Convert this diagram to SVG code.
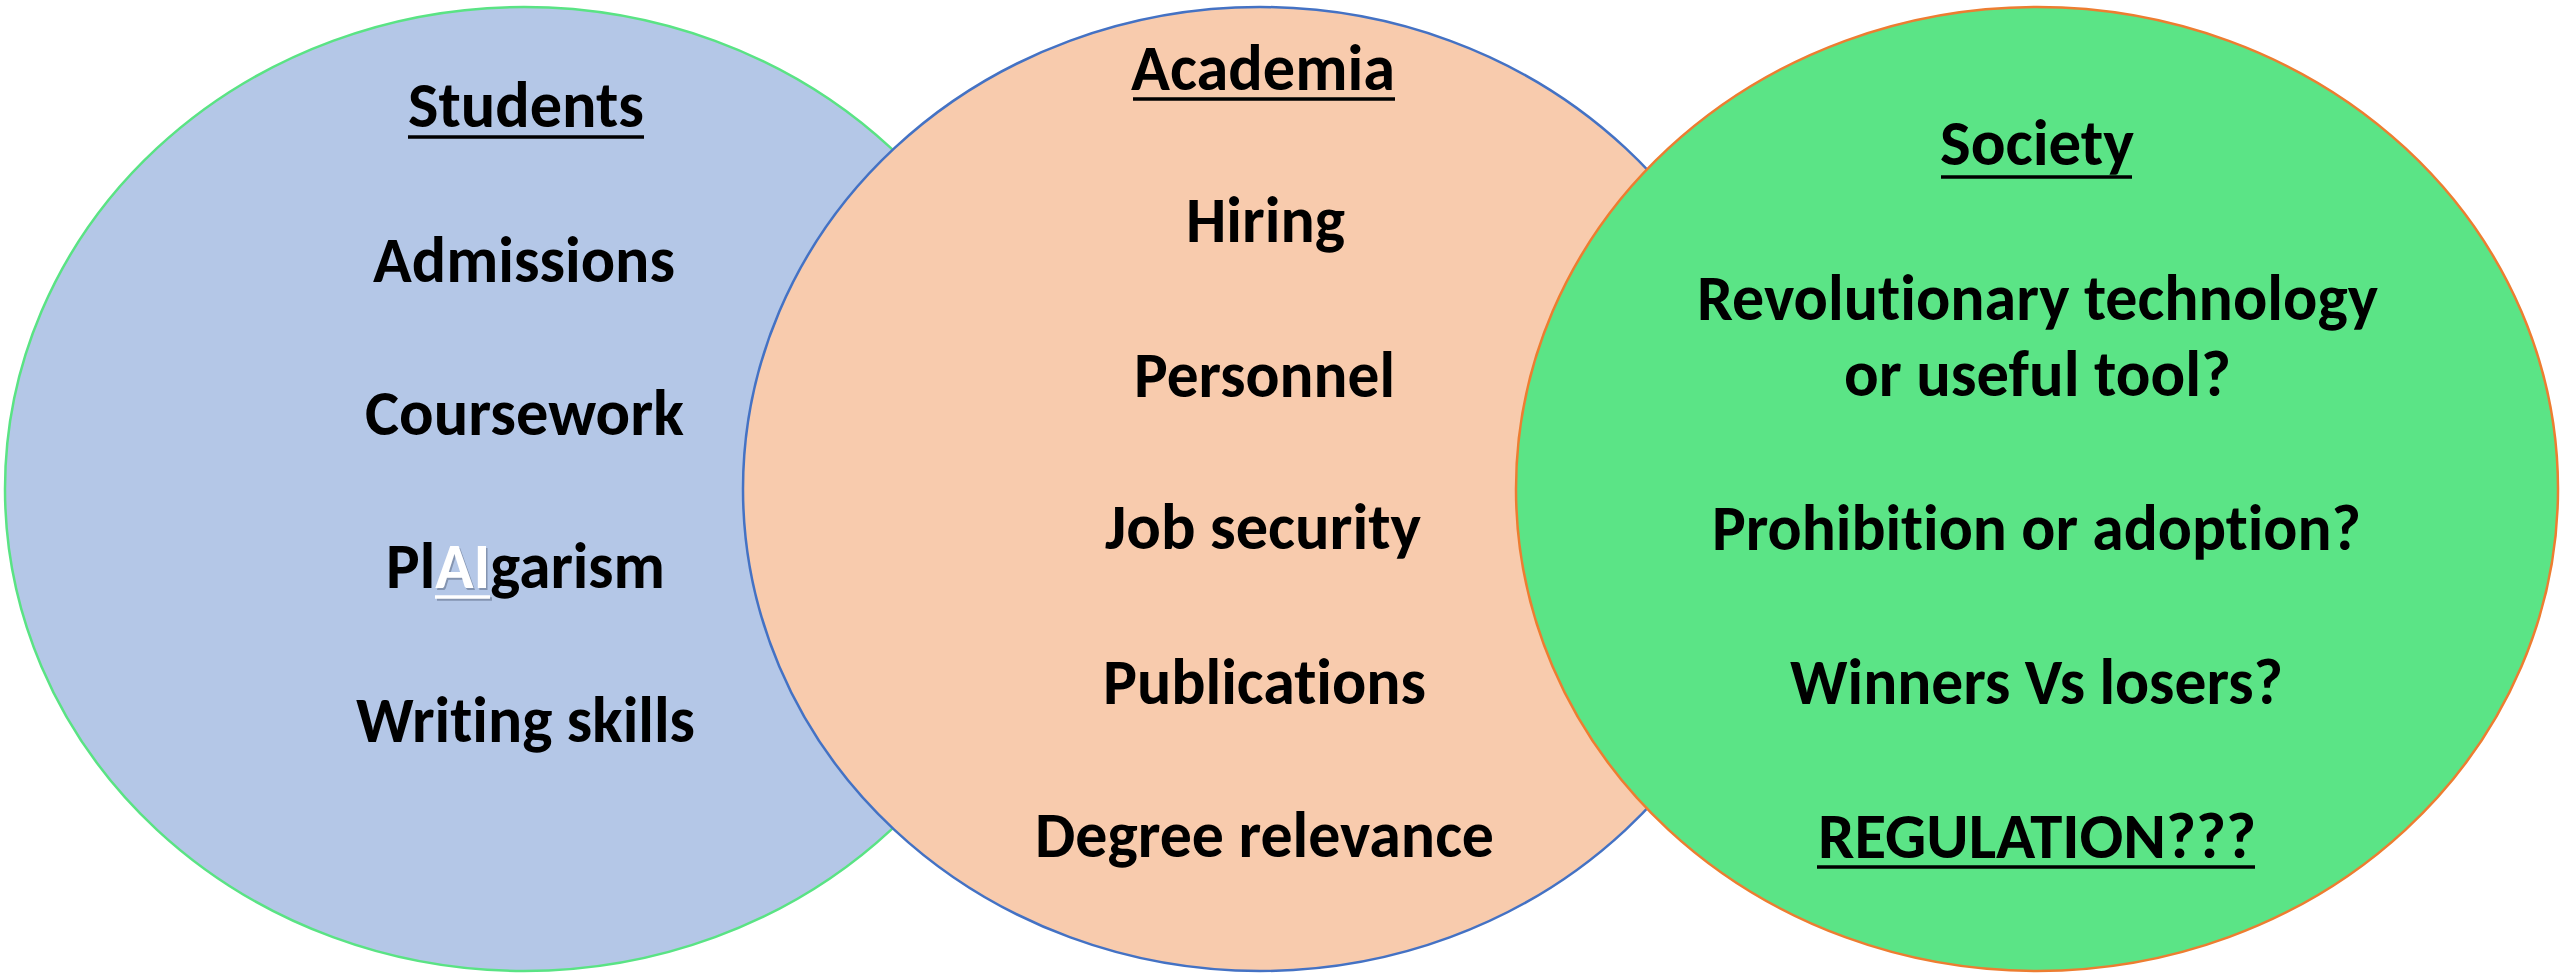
<svg xmlns="http://www.w3.org/2000/svg" width="2560" height="973" viewBox="0 0 2560 973">
<style>
  .t { font-family: Carlito, Lato, "Liberation Sans", sans-serif; font-weight: bold; font-size: 64px; fill: #000000; text-anchor: middle; font-variant-ligatures: none; }
  .ul { stroke: #000000; stroke-width: 3.5; }
</style>
<rect x="0" y="0" width="2560" height="973" fill="#FFFFFF"/>
<g id="students">
  <ellipse cx="524" cy="489" rx="519" ry="482" fill="#B4C7E7" stroke="#5AE384" stroke-width="2.5"/>
  <text class="t" x="526" y="127" textLength="236" lengthAdjust="spacingAndGlyphs">Students</text>
  <line class="ul" x1="408" y1="137" x2="644" y2="137"/>
  <text class="t" x="524" y="282" textLength="302" lengthAdjust="spacingAndGlyphs">Admissions</text>
  <text class="t" x="524.5" y="435" textLength="319" lengthAdjust="spacingAndGlyphs">Coursework</text>
  <text class="t" x="527" y="590" textLength="279" lengthAdjust="spacingAndGlyphs" fill="none"><tspan fill="none">Pl</tspan><tspan fill="#6F7F99" fill-opacity="0.7">AI</tspan><tspan fill="none">garism</tspan></text>
  <line x1="437" y1="599" x2="492" y2="599" stroke="#6F7F99" stroke-opacity="0.7" stroke-width="3.5"/>
  <text class="t" x="525.5" y="588" textLength="279" lengthAdjust="spacingAndGlyphs">Pl<tspan fill="#FFFFFF">AI</tspan>garism</text>
  <line x1="435" y1="597" x2="490" y2="597" stroke="#FFFFFF" stroke-width="3.5"/>
  <text class="t" x="525.5" y="742" textLength="339" lengthAdjust="spacingAndGlyphs">Writing skills</text>
</g>
<g id="academia">
  <ellipse cx="1260" cy="489" rx="517" ry="482" fill="#F8CBAD" stroke="#4472C4" stroke-width="2.5"/>
  <text class="t" x="1263" y="90" textLength="264" lengthAdjust="spacingAndGlyphs">Academia</text>
  <line class="ul" x1="1133" y1="99" x2="1395" y2="99"/>
  <text class="t" x="1265.5" y="242" textLength="159" lengthAdjust="spacingAndGlyphs">Hiring</text>
  <text class="t" x="1264.5" y="397" textLength="261" lengthAdjust="spacingAndGlyphs">Personnel</text>
  <text class="t" x="1263" y="549" textLength="316" lengthAdjust="spacingAndGlyphs">Job security</text>
  <text class="t" x="1264.5" y="704" textLength="323" lengthAdjust="spacingAndGlyphs">Publications</text>
  <text class="t" x="1264.5" y="857" textLength="459" lengthAdjust="spacingAndGlyphs">Degree relevance</text>
</g>
<g id="society">
  <ellipse cx="2037" cy="489" rx="521" ry="482" fill="#5BE486" stroke="#ED7D31" stroke-width="2.5"/>
  <text class="t" x="2037" y="165" textLength="194" lengthAdjust="spacingAndGlyphs">Society</text>
  <line class="ul" x1="1941" y1="177" x2="2132" y2="177"/>
  <text class="t" x="2037.5" y="320" textLength="681" lengthAdjust="spacingAndGlyphs">Revolutionary technology</text>
  <text class="t" x="2037.5" y="396" textLength="387" lengthAdjust="spacingAndGlyphs">or useful tool?</text>
  <text class="t" x="2036.5" y="550" textLength="649" lengthAdjust="spacingAndGlyphs">Prohibition or adoption?</text>
  <text class="t" x="2036.5" y="704" textLength="493" lengthAdjust="spacingAndGlyphs">Winners Vs losers?</text>
  <text class="t" x="2037" y="858" textLength="438" lengthAdjust="spacingAndGlyphs">REGULATION???</text>
  <line class="ul" x1="1817" y1="867" x2="2255" y2="867"/>
</g>
<g id="connectors"></g>
</svg>
